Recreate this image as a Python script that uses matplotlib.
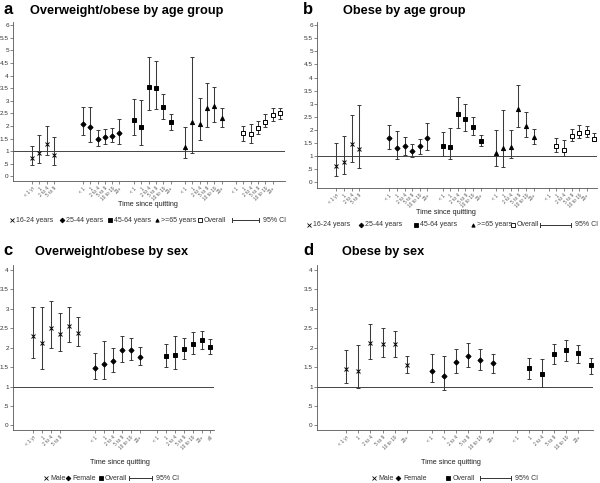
import matplotlib
matplotlib.use('Agg')
import matplotlib.pyplot as plt
from matplotlib.lines import Line2D

W, H = 600, 483
plt.rcParams['font.family'] = ['Liberation Sans', 'DejaVu Sans']

# ---- data (odds ratio estimates and 95% CI) ----
# a: overweight/obese by age group
a_1624_est = [0.74, 0.92, 1.30, 0.84]
a_1624_lo = [0.45, 0.53, 0.86, 0.44]
a_1624_hi = [1.22, 1.63, 1.99, 1.55]
a_2544_est = [2.10, 1.95, 1.48, 1.56, 1.62, 1.71]
a_2544_lo = [1.63, 1.38, 1.21, 1.29, 1.35, 1.30]
a_2544_hi = [2.77, 2.74, 1.84, 1.88, 1.92, 2.30]
a_4564_est = [2.26, 1.95, 3.54, 3.51, 2.74, 2.16]
a_4564_lo = [1.63, 1.25, 2.63, 2.66, 2.28, 1.84]
a_4564_hi = [3.09, 3.05, 4.75, 4.59, 3.28, 2.46]
a_65_est = [1.15, 2.16, 2.09, 2.70, 2.79, 2.32]
a_65_lo = [0.72, 0.94, 1.44, 1.95, 2.15, 1.97]
a_65_hi = [1.95, 4.75, 3.12, 3.69, 3.54, 2.71]
a_all_est = [1.71, 1.68, 1.92, 2.17, 2.44, 2.50]
a_all_lo = [1.42, 1.34, 1.68, 1.95, 2.21, 2.28]
a_all_hi = [2.00, 2.10, 2.21, 2.48, 2.73, 2.73]

# b: obese by age group
b_1624_est = [0.64, 0.78, 1.45, 1.29]
b_1624_lo = [0.25, 0.32, 0.80, 0.55]
b_1624_hi = [1.52, 1.79, 2.56, 2.94]
b_2544_est = [1.70, 1.32, 1.38, 1.20, 1.38, 1.68]
b_2544_lo = [1.27, 0.88, 1.05, 0.96, 1.10, 1.22]
b_2544_hi = [2.21, 1.95, 1.74, 1.47, 1.66, 2.28]
b_4564_est = [1.40, 1.37, 2.60, 2.41, 2.11, 1.60]
b_4564_lo = [1.02, 0.90, 2.07, 1.98, 1.81, 1.41]
b_4564_hi = [1.91, 2.08, 3.25, 2.98, 2.49, 1.83]
b_65_est = [1.12, 1.32, 1.37, 2.80, 2.16, 1.72]
b_65_lo = [0.63, 0.60, 0.94, 2.13, 1.75, 1.45]
b_65_hi = [2.02, 2.77, 2.00, 3.70, 2.68, 2.04]
b_all_est = [1.40, 1.23, 1.78, 1.90, 1.92, 1.67]
b_all_lo = [1.15, 1.00, 1.58, 1.70, 1.74, 1.57]
b_all_hi = [1.68, 1.63, 2.05, 2.19, 2.16, 1.87]

# c: overweight/obese by sex
c_male_est = [2.30, 2.11, 2.52, 2.35, 2.55, 2.39]
c_male_lo = [1.73, 1.45, 2.00, 1.92, 2.14, 2.05]
c_male_hi = [3.04, 3.05, 3.21, 2.89, 3.04, 2.78]
c_fem_est = [1.48, 1.57, 1.67, 1.95, 1.95, 1.77]
c_fem_lo = [1.19, 1.19, 1.38, 1.64, 1.68, 1.56]
c_fem_hi = [1.86, 2.16, 2.00, 2.31, 2.26, 2.02]
c_all_est = [1.78, 1.80, 1.97, 2.10, 2.19, 2.02]
c_all_lo = [1.50, 1.44, 1.70, 1.83, 1.97, 1.83]
c_all_hi = [2.10, 2.29, 2.26, 2.40, 2.44, 2.22]

# d: obese by sex
d_male_est = [1.45, 1.41, 2.11, 2.09, 2.09, 1.56]
d_male_lo = [1.10, 0.95, 1.70, 1.75, 1.77, 1.35]
d_male_hi = [1.93, 2.08, 2.61, 2.52, 2.44, 1.79]
d_fem_est = [1.41, 1.27, 1.62, 1.79, 1.68, 1.61]
d_fem_lo = [1.11, 0.90, 1.36, 1.51, 1.43, 1.36]
d_fem_hi = [1.83, 1.78, 1.97, 2.13, 1.96, 1.83]
d_all_est = [1.47, 1.32, 1.83, 1.93, 1.86, 1.56]
d_all_lo = [1.20, 1.00, 1.57, 1.66, 1.60, 1.32]
d_all_hi = [1.73, 1.70, 2.10, 2.20, 2.08, 1.73]

# tick labels
lab_first = ["< 1 yr", "1", "2 to 4", "5 to 9"]
lab_first6 = ["< 1 yr", "1", "2 to 4", "5 to 9", "10 to 19", "20+"]
lab_std = ["< 1", "1", "2 to 4", "5 to 9", "10 to 19", "20+"]
lab_c_last = ["< 1", "1", "2 to 4", "5 to 9", "10 to 19", "20+", "all"]

LEG_FS = 5.0


def fmt(v):
    s = "{:g}".format(v)
    if s.startswith("0."):
        s = s[1:]
    return s


def add_axes(fig, left, top, right, bottom):
    return fig.add_axes([left / W, 1 - bottom / H, (right - left) / W, (bottom - top) / H])


def draw_group(ax, start, est, lo, hi, marker, ms=3.0, hollow=False):
    x = [start + i for i in range(len(est))]
    err = [[e - l for e, l in zip(est, lo)], [h - e for e, h in zip(est, hi)]]
    ax.errorbar(x, est, yerr=err, fmt=marker, ms=ms,
                mfc='white' if hollow else 'black', mec='black', mew=0.7,
                ecolor='#3a3a3a', elinewidth=0.75, capsize=1.4, capthick=0.7, zorder=3)


def style_axes(ax, xlim, ylim, ymax, ticks, labels):
    ax.set_xlim(xlim)
    ax.set_ylim(ylim)
    for s in ['top', 'right']:
        ax.spines[s].set_visible(False)
    for s in ['left', 'bottom']:
        ax.spines[s].set_linewidth(0.6)
        ax.spines[s].set_color('#555555')
    ax.axhline(1, color='#444444', lw=0.7, zorder=1)
    yt = [i * 0.5 for i in range(int(ymax * 2) + 1)]
    ax.set_yticks(yt)
    ax.set_yticklabels([fmt(v) for v in yt])
    ax.set_xticks(ticks)
    ax.set_xticklabels(labels, rotation=45, ha='right', va='top',
                       rotation_mode='anchor', fontsize=3.4, color='#555555')
    ax.tick_params(axis='y', labelsize=4.6, length=2, width=0.5, pad=1,
                   color='#555555', labelcolor='#333333')
    ax.tick_params(axis='x', length=2, width=0.5, pad=1.5, color='#555555')


def legend_row(fig, y, items, ci):
    for mx, marker, hollow, tx, label in items:
        fig.add_artist(Line2D([mx / W], [1 - y / H], marker=marker, ms=2.4, ls='none',
                              mfc='white' if hollow else 'black', mec='black', mew=0.6,
                              transform=fig.transFigure))
        fig.text(tx / W, 1 - y / H, label, fontsize=LEG_FS, va='center', ha='left', color='#333333')
    x0, x1, tx = ci
    yy = 1 - y / H
    fig.add_artist(Line2D([x0 / W, x1 / W], [yy, yy], color='#333333', lw=0.7,
                          transform=fig.transFigure))
    for xe in (x0, x1):
        fig.add_artist(Line2D([xe / W, xe / W], [yy - 2.2 / H, yy + 2.2 / H], color='#333333',
                              lw=0.7, transform=fig.transFigure))
    fig.text(tx / W, yy, "95% CI", fontsize=LEG_FS, va='center', ha='left', color='#333333')


def titles(fig, x_letter, x_title, y, letter, title):
    fig.text(x_letter / W, 1 - y / H, letter, fontsize=12, fontweight='bold', va='baseline')
    fig.text(x_title / W, 1 - y / H, title, fontsize=9.2, fontweight='bold', va='baseline')


fig = plt.figure(figsize=(6, 4.83), dpi=100)

# ---- panel a ----
ax = add_axes(fig, 13, 22, 285, 181)
draw_group(ax, 0, a_1624_est, a_1624_lo, a_1624_hi, 'x', ms=2.6)
draw_group(ax, 7, a_2544_est, a_2544_lo, a_2544_hi, 'D', ms=2.6)
draw_group(ax, 14, a_4564_est, a_4564_lo, a_4564_hi, 's', ms=2.6)
draw_group(ax, 21, a_65_est, a_65_lo, a_65_hi, '^', ms=3.0)
draw_group(ax, 29, a_all_est, a_all_lo, a_all_hi, 's', ms=3.0, hollow=True)
ticks = list(range(0, 4)) + list(range(7, 13)) + list(range(14, 20)) + list(range(21, 27)) + list(range(28, 34))
labels = lab_first + lab_std * 4
style_axes(ax, (-2.6, 34.7), (-0.18, 6.13), 6, ticks, labels)
fig.text(148 / W, 1 - 205 / H, "Time since quitting", fontsize=5.2, ha='center', va='center', color='#222222')
legend_row(fig, 220, [(12, 'x', False, 16, "16-24 years"), (62, 'D', False, 66, "25-44 years"),
                      (110, 's', False, 114, "45-64 years"), (157, '^', False, 161, ">=65 years"),
                      (200, 's', True, 204, "Overall")], (232, 259, 263))
titles(fig, 3, 30, 14, "a", "Overweight/obese by age group")

# ---- panel b ----
ax = add_axes(fig, 317, 22, 597, 188)
draw_group(ax, 0, b_1624_est, b_1624_lo, b_1624_hi, 'x', ms=2.6)
draw_group(ax, 7, b_2544_est, b_2544_lo, b_2544_hi, 'D', ms=2.6)
draw_group(ax, 14, b_4564_est, b_4564_lo, b_4564_hi, 's', ms=2.6)
draw_group(ax, 21, b_65_est, b_65_lo, b_65_hi, '^', ms=3.0)
draw_group(ax, 29, b_all_est, b_all_lo, b_all_hi, 's', ms=3.0, hollow=True)
style_axes(ax, (-2.55, 34.35), (-0.21, 6.12), 6, ticks, labels)
fig.text(446 / W, 1 - 212 / H, "Time since quitting", fontsize=5.2, ha='center', va='center', color='#222222')
legend_row(fig, 225, [(309, 'x', False, 313, "16-24 years"), (361, 'D', False, 365, "25-44 years"),
                      (416, 's', False, 420, "45-64 years"), (473, '^', False, 477, ">=65 years"),
                      (513, 's', True, 517, "Overall")], (540, 571, 575))
titles(fig, 303, 343, 14, "b", "Obese by age group")

# ---- panel c ----
ax = add_axes(fig, 13, 265, 214, 430)
draw_group(ax, 0, c_male_est, c_male_lo, c_male_hi, 'x', ms=2.6)
draw_group(ax, 7, c_fem_est, c_fem_lo, c_fem_hi, 'D', ms=2.6)
draw_group(ax, 15, c_all_est, c_all_lo, c_all_hi, 's', ms=2.6)
ticks_c = list(range(0, 4)) + list(range(7, 13)) + list(range(14, 21))
style_axes(ax, (-2.3, 20.4), (-0.12, 4.13), 4, ticks_c, lab_first + lab_std + lab_c_last)
fig.text(120 / W, 1 - 463 / H, "Time since quitting", fontsize=5.2, ha='center', va='center', color='#222222')
legend_row(fig, 478, [(46, 'x', False, 50, "Male"), (68, 'D', False, 72, "Female"),
                      (101, 's', False, 105, "Overall")], (129, 152, 156))
titles(fig, 3, 35, 255, "c", "Overweight/obese by sex")

# ---- panel d ----
ax = add_axes(fig, 317, 265, 593, 430)
draw_group(ax, 0, d_male_est, d_male_lo, d_male_hi, 'x', ms=2.6)
draw_group(ax, 7, d_fem_est, d_fem_lo, d_fem_hi, 'D', ms=2.6)
draw_group(ax, 15, d_all_est, d_all_lo, d_all_hi, 's', ms=2.6)
ticks_d = list(range(0, 6)) + list(range(7, 13)) + list(range(14, 20))
style_axes(ax, (-2.36, 20.2), (-0.12, 4.13), 4, ticks_d, lab_first6 + lab_std + lab_std)
fig.text(451 / W, 1 - 463 / H, "Time since quitting", fontsize=5.2, ha='center', va='center', color='#222222')
legend_row(fig, 478, [(374, 'x', False, 378, "Male"), (398, 'D', False, 403, "Female"),
                      (448, 's', False, 453, "Overall")], (480, 511, 515))
titles(fig, 303, 342, 255, "d", "Obese by sex")

fig.savefig("out.png", dpi=100)
